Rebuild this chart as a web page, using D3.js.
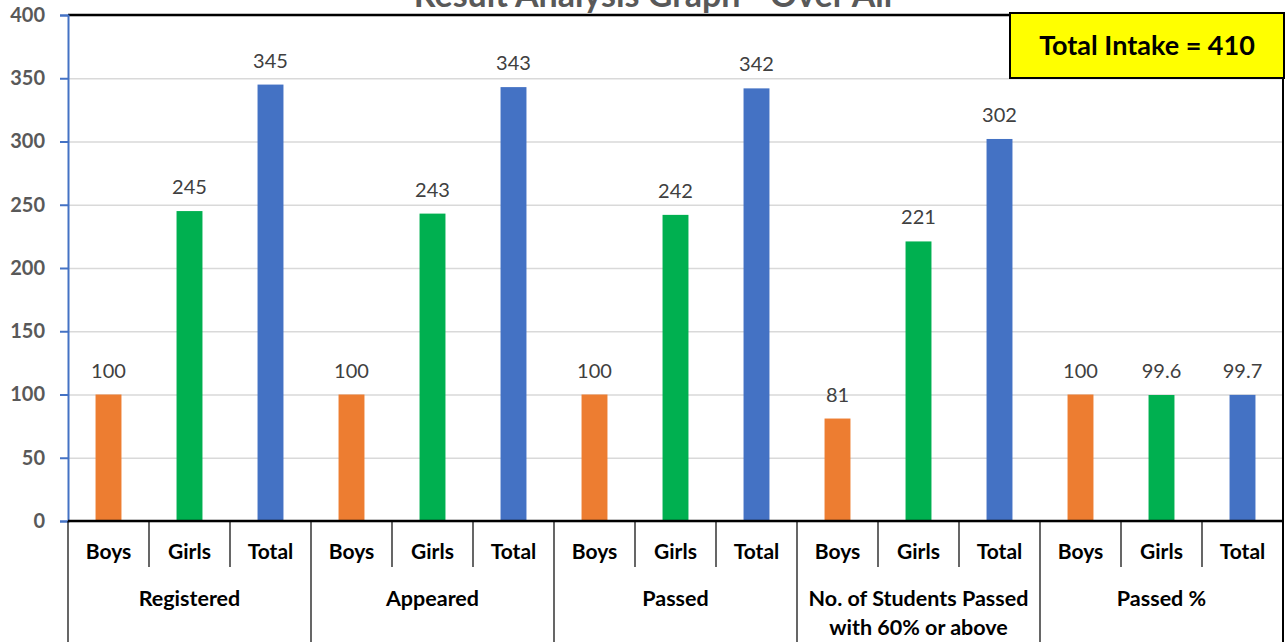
<!DOCTYPE html>
<html>
<head>
<meta charset="utf-8">
<script src="https://cdn.jsdelivr.net/npm/d3@7"></script>
<style>
  body { margin: 0; background: #fff; }
  svg { display: block; font-family: Lato, "Open Sans", sans-serif; }
</style>
</head>
<body>
<div id="chart"></div>
<script>
const groups = ['Registered', 'Appeared', 'Passed', 'No. of Students Passed|with 60% or above', 'Passed %'];
const subCategories = ['Boys', 'Girls', 'Total'];
const boys = [100, 100, 100, 81, 100];
const girls = [245, 243, 242, 221, 99.6];
const totals = [345, 343, 342, 302, 99.7];
const yTicks = [0, 50, 100, 150, 200, 250, 300, 350, 400];
const title = 'Result Analysis Graph - Over All';
const intakeLabel = 'Total Intake = 410';

const colors = { Boys: '#ED7D31', Girls: '#00B050', Total: '#4472C4' };

const W = 1288, H = 642;
const plot = { left: 68, right: 1283, top: 15, bottom: 521 };

// flatten into one row per bar
const rows = [];
groups.forEach((g, gi) => {
  const vals = [boys[gi], girls[gi], totals[gi]];
  subCategories.forEach((s, si) => rows.push({ key: gi + '-' + s, group: g, gi, sub: s, value: vals[si] }));
});

const svg = d3.select('#chart').append('svg')
  .attr('width', W).attr('height', H);

const x = d3.scaleBand()
  .domain(rows.map(d => d.key))
  .range([plot.left, plot.right])
  .padding(0);

const xg = d3.scaleBand()
  .domain(groups)
  .range([plot.left, plot.right])
  .padding(0);

const y = d3.scaleLinear()
  .domain([0, 400])
  .range([plot.bottom, plot.top]);

// gridlines
const grid = svg.append('g')
  .attr('transform', `translate(${plot.left},0)`)
  .call(d3.axisLeft(y).tickValues(yTicks).tickSize(-(plot.right - plot.left)).tickFormat(''));
grid.select('.domain').remove();
grid.selectAll('line').attr('stroke', '#D9D9D9').attr('stroke-width', 1.5);

// bars
const barW = x.bandwidth() * 0.32;
svg.selectAll('rect.bar')
  .data(rows)
  .enter()
  .append('rect')
  .attr('class', 'bar')
  .attr('x', d => x(d.key) + (x.bandwidth() - barW) / 2)
  .attr('y', d => y(d.value))
  .attr('width', barW)
  .attr('height', d => y(0) - y(d.value))
  .attr('fill', d => colors[d.sub]);

// value labels
svg.selectAll('text.val')
  .data(rows)
  .enter()
  .append('text')
  .attr('class', 'val')
  .attr('x', d => x(d.key) + x.bandwidth() / 2)
  .attr('y', d => y(d.value) - 17)
  .attr('text-anchor', 'middle')
  .attr('font-size', '20px')
  .attr('fill', '#404040')
  .text(d => d.value);

// top border
svg.append('line')
  .attr('x1', plot.left).attr('x2', plot.right)
  .attr('y1', y(400)).attr('y2', y(400))
  .attr('stroke', '#000').attr('stroke-width', 2.5);

// right border
svg.append('line')
  .attr('x1', plot.right).attr('x2', plot.right)
  .attr('y1', plot.top).attr('y2', H)
  .attr('stroke', '#000').attr('stroke-width', 2);

// y axis
const yAxis = svg.append('g')
  .attr('transform', `translate(${plot.left},0)`)
  .call(d3.axisLeft(y).tickValues(yTicks).tickSize(8).tickPadding(15));
yAxis.select('.domain').attr('stroke', '#4472C4').attr('stroke-width', 2);
yAxis.selectAll('line').attr('stroke', '#4472C4').attr('stroke-width', 2);
yAxis.selectAll('text')
  .attr('font-size', '20px')
  .attr('font-weight', 'bold')
  .attr('fill', '#595959')
  .attr('font-family', 'Lato, sans-serif');

// x axis baseline
svg.append('line')
  .attr('x1', plot.left).attr('x2', plot.right)
  .attr('y1', plot.bottom).attr('y2', plot.bottom)
  .attr('stroke', '#000').attr('stroke-width', 2.5);

// category dividers
svg.selectAll('line.subdiv')
  .data(rows.filter((d, i) => i % 3 !== 0))
  .enter()
  .append('line')
  .attr('x1', d => x(d.key)).attr('x2', d => x(d.key))
  .attr('y1', plot.bottom).attr('y2', 567)
  .attr('stroke', '#000').attr('stroke-width', 1.2);

svg.selectAll('line.groupdiv')
  .data(groups)
  .enter()
  .append('line')
  .attr('x1', d => xg(d)).attr('x2', d => xg(d))
  .attr('y1', plot.bottom).attr('y2', H)
  .attr('stroke', '#000').attr('stroke-width', 1.2);

// sub category labels
svg.selectAll('text.sub')
  .data(rows)
  .enter()
  .append('text')
  .attr('class', 'sub')
  .attr('x', d => x(d.key) + x.bandwidth() / 2)
  .attr('y', 559)
  .attr('text-anchor', 'middle')
  .attr('font-size', '21px')
  .attr('font-weight', 'bold')
  .attr('fill', '#000')
  .text(d => d.sub);

// group labels
const gl = svg.selectAll('text.grp')
  .data(groups)
  .enter()
  .append('text')
  .attr('class', 'grp')
  .attr('text-anchor', 'middle')
  .attr('font-size', '21.5px')
  .attr('font-weight', 'bold')
  .attr('fill', '#000');
gl.each(function (d) {
  const parts = d.split('|');
  const t = d3.select(this);
  parts.forEach((p, i) => {
    t.append('tspan')
      .attr('x', xg(d) + xg.bandwidth() / 2)
      .attr('y', 606 + i * 29)
      .text(p);
  });
});

// title (cut at top, as in the source)
svg.append('text')
  .attr('x', 653)
  .attr('y', 7)
  .attr('text-anchor', 'middle')
  .attr('font-size', '34px')
  .attr('font-weight', 'bold')
  .attr('fill', '#595959')
  .text(title);

// intake box
svg.append('rect')
  .attr('x', 1010).attr('y', 13)
  .attr('width', 274).attr('height', 65)
  .attr('fill', '#FFFF00')
  .attr('stroke', '#000').attr('stroke-width', 2);
svg.append('text')
  .attr('x', 1147).attr('y', 55)
  .attr('text-anchor', 'middle')
  .attr('font-size', '27px')
  .attr('font-weight', 'bold')
  .attr('fill', '#000')
  .text(intakeLabel);
</script>
</body>
</html>
